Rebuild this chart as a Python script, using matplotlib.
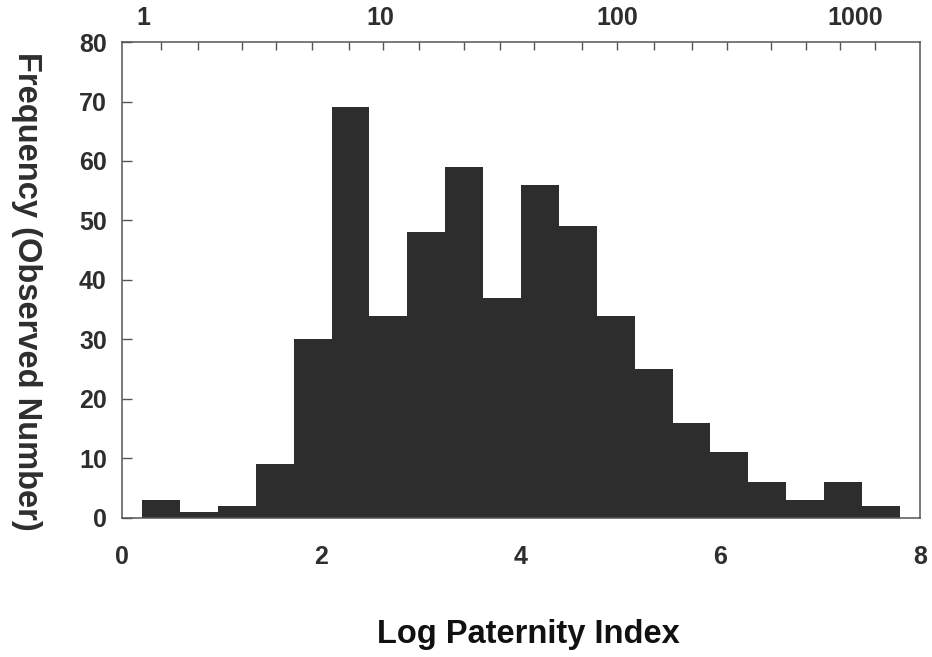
import matplotlib.pyplot as plt
import numpy as np

# histogram of log paternity index
bin_start = 0.2
bin_width = 0.38
counts = [3, 1, 2, 9, 30, 69, 34, 48, 59, 37, 56, 49, 34, 25, 16, 11, 6, 3, 6, 2]

x_ticks = [0, 2, 4, 6, 8]
y_ticks = [0, 10, 20, 30, 40, 50, 60, 70, 80]

# top axis: paternity index (untransformed)
top_labels = ['1', '10', '100', '1000']
top_label_pos = [0.21, 2.59, 4.97, 7.35]
top_tick_pos = [0.39, 0.76, 1.2, 1.54, 1.9, 2.28, 2.62, 2.98, 3.43, 3.79,
                4.13, 4.61, 4.96, 5.33, 5.71, 6.07, 6.51, 6.86, 7.2, 7.55]

plt.rcParams['font.family'] = ['Liberation Sans', 'DejaVu Sans']
plt.rcParams['font.weight'] = 'bold'

fig = plt.figure(figsize=(9.32, 6.57), dpi=100)
ax = fig.add_axes([0.131, 0.212, 0.856, 0.724])

edges = bin_start + bin_width * np.arange(len(counts) + 1)
ax.stairs(counts, edges, fill=True, color='#2d2d2d', linewidth=0)

ax.set_xlim(0, 8)
ax.set_ylim(0, 80)
ax.set_xticks(x_ticks)
ax.set_yticks(y_ticks)
ax.tick_params(axis='x', length=0, pad=20, labelsize=18, labelcolor='#2e2e2e')
ax.tick_params(axis='y', direction='in', length=7, width=1, pad=11,
               labelsize=18, labelcolor='#2e2e2e', color='#555555')
for s in ax.spines.values():
    s.set_color('#555555')
    s.set_linewidth(1.1)

top = ax.twiny()
top.set_xlim(0, 8)
top.set_xticks(top_label_pos)
top.set_xticklabels(top_labels)
top.set_xticks(top_tick_pos, minor=True)
top.tick_params(axis='x', which='major', length=0, pad=9, labelsize=18,
                labelcolor='#2e2e2e')
top.tick_params(axis='x', which='minor', direction='in', length=6, width=1,
                color='#555555')
for s in top.spines.values():
    s.set_visible(False)

fig.text(0.028, 0.556, 'Frequency (Observed Number)', rotation=-90,
         ha='center', va='center', fontsize=23.5, fontweight='bold',
         color='#2e2e2e')
fig.text(0.567, 0.034, 'Log Paternity Index', ha='center', va='center',
         fontsize=23.5, fontweight='bold', color='#111111')

fig.savefig('out.png', dpi=100)
